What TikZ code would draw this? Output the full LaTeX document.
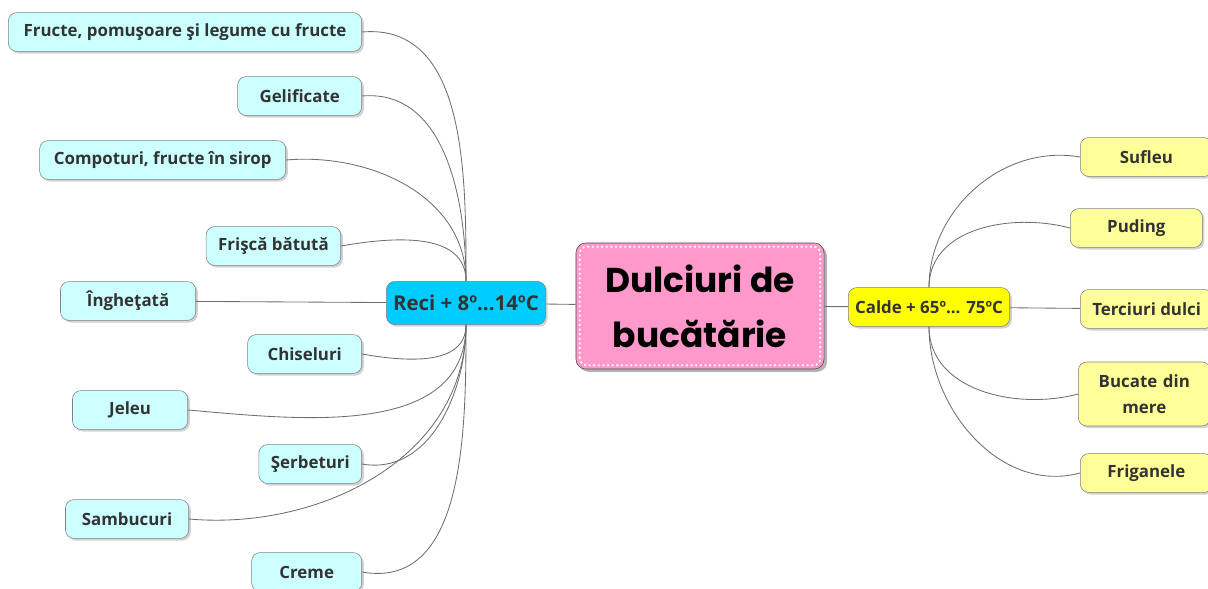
\documentclass[tikz,border=0pt]{standalone}
\usepackage{fontspec}
\setmainfont{Open Sans}
\newfontfamily\titlefont{Poppins}
\usepackage{xcolor}
\usetikzlibrary{calc, positioning, shadows}

\definecolor{coldfill}{HTML}{CCFFFF}
\definecolor{recifill}{HTML}{00CCFF}
\definecolor{titlefill}{HTML}{FF99CC}
\definecolor{caldefill}{HTML}{FFFF00}
\definecolor{warmfill}{HTML}{FFFF99}
\definecolor{boxline}{HTML}{808080}
\definecolor{textgrey}{HTML}{333333}
\definecolor{linkgrey}{HTML}{6E6E6E}

\begin{document}
\begin{tikzpicture}[x=0.025cm, y=-0.025cm, font=\fontsize{12}{14}\selectfont\bfseries]
	\tikzstyle{leaf} = [draw=boxline, rounded corners=6pt, text=textgrey, minimum height=0.97cm, minimum width=2.75cm, inner xsep=0.3cm, align=center, drop shadow={shadow xshift=1.5pt, shadow yshift=-1.5pt, opacity=0.35}]
	\tikzstyle{cold} = [leaf, fill=coldfill, anchor=east]
	\tikzstyle{warm} = [leaf, fill=warmfill, anchor=west, minimum width=3.3cm]
	\tikzstyle{branch} = [leaf, minimum width=0pt, inner xsep=0.17cm]
	\tikzstyle{link} = [draw=linkgrey, line width=0.6pt]

	\useasboundingbox (0, 0) rectangle (1208, 588);

	% centre
	\node[draw=black!70, fill=titlefill, rounded corners=7pt, minimum width=6.2cm, minimum height=3.15cm, align=center, font=\titlefont\fontsize{24.5}{39}\selectfont\bfseries, drop shadow={shadow xshift=2pt, shadow yshift=-2pt, opacity=0.6}]
		at (700, 306) (ctr) {Dulciuri de\\bucătărie};
	\draw[white, dotted, line width=1.3pt, rounded corners=5pt] ($(ctr.south west)+(4,-4)$) rectangle ($(ctr.north east)+(-4,4)$);

	\node[branch, fill=recifill, font=\fontsize{14.5}{16}\selectfont\bfseries, minimum height=1.08cm] at (466, 303) (reci) {Reci + 8º...14ºC};
	\node[branch, fill=caldefill] at (929, 307) (calde) {Calde + 65º... 75ºC};

	% reci side
	\node[cold, minimum width=8.83cm] at (362, 32) (q1) {Fructe, pomuşoare şi legume cu fructe};
	\node[cold, minimum width=3.1cm] at (362, 96) (q2) {Gelificate};
	\node[cold, minimum width=6.15cm] at (286, 160) (q3) {Compoturi, fructe în sirop};
	\node[cold, minimum width=3.2cm] at (341, 246) (q4) {Frişcă bătută};
	\node[cold, minimum width=3.38cm] at (196, 301) (q5) {Îngheţată};
	\node[cold, minimum width=2.85cm] at (362, 354) (q6) {Chiseluri};
	\node[cold, minimum width=2.88cm] at (188, 410) (q7) {Jeleu};
	\node[cold, minimum width=2.5cm] at (362, 464) (q8) {Şerbeturi};
	\node[cold, minimum width=3.08cm] at (189, 519) (q9) {Sambucuri};
	\node[cold, minimum width=2.75cm] at (362, 572) (q10) {Creme};

	% calde side
	\node[warm] at (1080, 157) (w1) {Sufleu};
	\node[warm] at (1070, 228) (w2) {Puding};
	\node[warm] at (1080, 309) (w3) {Terciuri dulci};
	\node[warm, text width=2.9cm, inner xsep=0.1cm, font=\fontsize{12}{18.5}\selectfont\bfseries, minimum height=1.6cm] at (1078, 394) (w4) {Bucate din\\mere};
	\node[warm] at (1080, 473) (w5) {Friganele};

	\path[link]
	(ctr)		edge					(reci)
	(ctr)		edge					(calde)
	(reci.north)	edge[out=90, in=5]		(q1.east)
	(reci.north)	edge[out=90, in=5]		(q2.east)
	(reci.north)	edge[out=90, in=5]		(q3.east)
	(reci.north)	edge[out=90, in=10]		(q4.east)
	(reci)		edge					(q5)
	(reci.south)	edge[out=-90, in=-10]	(q6.east)
	(reci.south)	edge[out=-90, in=-5]		(q7.east)
	(reci.south)	edge[out=-90, in=-10]	(q8.east)
	(reci.south)	edge[out=-90, in=-5]		(q9.east)
	(reci.south)	edge[out=-90, in=-10]	(q10.east)
	(calde.north)	edge[out=90, in=170]	(w1.west)
	(calde.north)	edge[out=90, in=165]	(w2.west)
	(calde)		edge					(w3)
	(calde.south)	edge[out=-90, in=195]	(w4.west)
	(calde.south)	edge[out=-90, in=195]	(w5.west);
\end{tikzpicture}
\end{document}
